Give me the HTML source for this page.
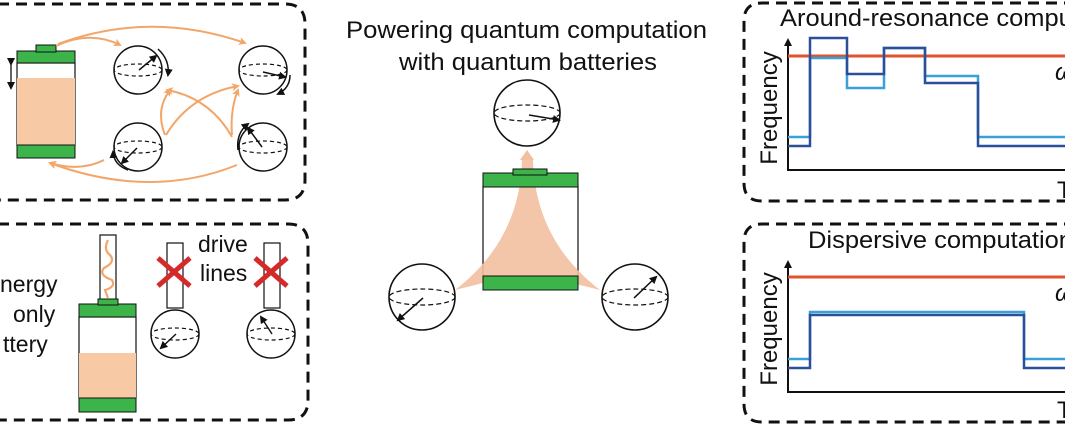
<!DOCTYPE html>
<html><head><meta charset="utf-8"><style>
body{margin:0;background:#fff;}
svg{display:block;font-family:"Liberation Sans","DejaVu Sans",sans-serif;}
</style></head><body>
<svg width="1065" height="426" viewBox="0 0 1065 426" xmlns="http://www.w3.org/2000/svg">
<defs>
<marker id="oa" markerWidth="8" markerHeight="8" refX="6" refY="4" orient="auto" markerUnits="userSpaceOnUse"><path d="M0,0 L8,4 L0,8 L2,4 Z" fill="#f2a66a"/></marker>
<marker id="ka" markerWidth="8" markerHeight="8" refX="6" refY="4" orient="auto" markerUnits="userSpaceOnUse"><path d="M0,0 L8,4 L0,8 Z" fill="#111"/></marker>
<g id="sph">
<circle r="24" fill="#fff" stroke="#111" stroke-width="1.5"/>
<ellipse rx="24" ry="6" fill="none" stroke="#111" stroke-width="1.2" stroke-dasharray="4,3"/>
</g>
<g id="sphL">
<circle r="33" fill="#fff" stroke="#111" stroke-width="1.6"/>
<ellipse rx="33" ry="8" fill="none" stroke="#111" stroke-width="1.2" stroke-dasharray="5,3"/>
</g>
</defs>

<path d="M-20,4 H285 Q305,4 305,24 V180 Q305,200 285,200 H-20" fill="none" stroke="#111" stroke-width="3" stroke-dasharray="11,7"/>
<path d="M-20,224 H288 Q308,224 308,244 V400 Q308,420 288,420 H-20" fill="none" stroke="#111" stroke-width="3" stroke-dasharray="11,7"/>

<rect x="17" y="63" width="58" height="82" fill="#fff" stroke="#111" stroke-width="1.2"/>
<rect x="17" y="78" width="58" height="67" fill="#f7c9a4"/>
<rect x="17" y="51" width="58" height="12" fill="#3cb44a" stroke="#111" stroke-width="1"/>
<rect x="36" y="45" width="20" height="7" fill="#3cb44a" stroke="#111" stroke-width="1"/>
<rect x="17" y="145" width="58" height="13" fill="#3cb44a" stroke="#111" stroke-width="1"/>
<line x1="11" y1="64" x2="11" y2="88" stroke="#111" stroke-width="1.3" marker-start="url(#ka)" marker-end="url(#ka)"/>

<g fill="none" stroke="#f2a66a" stroke-width="2">
<path d="M56,46 Q90,30 120,45" marker-end="url(#oa)"/>
<path d="M58,44 Q150,10 245,43" marker-end="url(#oa)"/>
<path d="M165,135 Q155,110 170,90" marker-end="url(#oa)"/>
<path d="M166,135 Q190,95 238,86" marker-end="url(#oa)"/>
<path d="M232,137 Q210,98 167,90" marker-end="url(#oa)"/>
<path d="M232,135 Q230,110 238,90" marker-end="url(#oa)"/>
<path d="M104,160 Q80,172 50,163" marker-end="url(#oa)"/>
<path d="M237,165 Q150,200 50,163" marker-end="url(#oa)"/>
</g>

<use href="#sph" x="138" y="70"/>
<line x1="139" y1="70" x2="156" y2="56" stroke="#111" stroke-width="1.5" marker-end="url(#ka)"/>
<path d="M158,49 Q170,60 168,75" fill="none" stroke="#111" stroke-width="1.5" marker-end="url(#ka)"/>
<use href="#sph" x="263" y="70"/>
<line x1="263" y1="72" x2="285" y2="77" stroke="#111" stroke-width="1.5" marker-end="url(#ka)"/>
<path d="M290,75 Q290,88 278,94" fill="none" stroke="#111" stroke-width="1.5" marker-end="url(#ka)"/>
<use href="#sph" x="138" y="147"/>
<line x1="137" y1="148" x2="122" y2="163" stroke="#111" stroke-width="1.5" marker-end="url(#ka)"/>
<path d="M128,170 Q114,165 113,152" fill="none" stroke="#111" stroke-width="1.5" marker-end="url(#ka)"/>
<use href="#sph" x="263" y="147"/>
<line x1="262" y1="147" x2="248" y2="128" stroke="#111" stroke-width="1.5" marker-end="url(#ka)"/>
<path d="M238,150 Q236,133 248,124" fill="none" stroke="#111" stroke-width="1.5" marker-end="url(#ka)"/>

<g font-size="23" fill="#111">
<text x="0" y="292">nergy</text>
<text x="13" y="322">only</text>
<text x="3" y="352">ttery</text>
<text x="198" y="252">drive</text>
<text x="200" y="281">lines</text>
</g>
<rect x="100" y="235" width="16" height="67" fill="#fff" stroke="#111" stroke-width="1.2"/>
<path d="M108,240 Q103,250 110,255 Q116,262 104,268 Q98,275 112,280 Q116,287 105,290 L108,298" fill="none" stroke="#f2a66a" stroke-width="2.2"/>
<rect x="79" y="317" width="57" height="81" fill="#fff" stroke="#111" stroke-width="1.2"/>
<rect x="79" y="353" width="57" height="45" fill="#f7c9a4"/>
<rect x="79" y="304" width="57" height="13" fill="#3cb44a" stroke="#111" stroke-width="1"/>
<rect x="98" y="299" width="20" height="6" fill="#3cb44a" stroke="#111" stroke-width="1"/>
<rect x="79" y="398" width="57" height="14" fill="#3cb44a" stroke="#111" stroke-width="1"/>

<rect x="167" y="243" width="16" height="65" fill="#fff" stroke="#111" stroke-width="1.2"/>
<use href="#sph" x="175" y="334"/>
<line x1="176" y1="334" x2="161" y2="348" stroke="#111" stroke-width="1.4" marker-end="url(#ka)"/>
<rect x="264" y="243" width="16" height="65" fill="#fff" stroke="#111" stroke-width="1.2"/>
<use href="#sph" x="271" y="334"/>
<line x1="272" y1="334" x2="261" y2="317" stroke="#111" stroke-width="1.4" marker-end="url(#ka)"/>
<g stroke="#d42a2a" stroke-width="5">
<line x1="158" y1="258" x2="190" y2="286"/><line x1="190" y1="258" x2="158" y2="286"/>
<line x1="255" y1="258" x2="287" y2="286"/><line x1="287" y1="258" x2="255" y2="286"/>
</g>

<g font-size="24" fill="#111">
<text x="346" y="38" textLength="361" lengthAdjust="spacingAndGlyphs">Powering quantum computation</text>
<text x="399" y="70" textLength="258" lengthAdjust="spacingAndGlyphs">with quantum batteries</text>
</g>
<rect x="483" y="186" width="95" height="90" fill="#fff" stroke="#111" stroke-width="1.2"/>
<path d="M522,160 L533,160 Q535,240 600,290 L580,285 Q527,270 475,285 L455,290 Q520,240 522,160 Z" fill="#f2bfa0" opacity="0.9"/>
<path d="M520,160 L527,150 L534,160 Z" fill="#f2bfa0"/>
<rect x="483" y="173" width="95" height="14" fill="#3cb44a" stroke="#111" stroke-width="1"/>
<rect x="513" y="169" width="34" height="6" fill="#3cb44a" stroke="#111" stroke-width="1"/>
<rect x="483" y="276" width="95" height="14" fill="#3cb44a" stroke="#111" stroke-width="1"/>
<use href="#sphL" x="527" y="113"/>
<line x1="529" y1="115" x2="559" y2="120" stroke="#111" stroke-width="1.5" marker-end="url(#ka)"/>
<use href="#sphL" x="422" y="297"/>
<line x1="423" y1="298" x2="398" y2="320" stroke="#111" stroke-width="1.5" marker-end="url(#ka)"/>
<use href="#sphL" x="635" y="297"/>
<line x1="634" y1="298" x2="656" y2="277" stroke="#111" stroke-width="1.5" marker-end="url(#ka)"/>

<path d="M1075,3 H762 Q744,3 744,21 V183 Q744,201 762,201 H1075" fill="none" stroke="#111" stroke-width="3" stroke-dasharray="11,7"/>
<path d="M1075,224 H762 Q744,224 744,242 V404 Q744,422 762,422 H1075" fill="none" stroke="#111" stroke-width="3" stroke-dasharray="11,7"/>
<g font-size="24" fill="#111">
<text x="780" y="26" textLength="355" lengthAdjust="spacingAndGlyphs">Around-resonance computation</text>
<text x="808" y="248" textLength="265" lengthAdjust="spacingAndGlyphs">Dispersive computation</text>
<text x="1057" y="198">T</text>
<text x="1057" y="418">T</text>
<text x="1055" y="80" font-style="italic">ω</text>
<text x="1055" y="301" font-style="italic">ω</text>
<text transform="translate(777,108) rotate(-90)" text-anchor="middle">Frequency</text>
<text transform="translate(777,329) rotate(-90)" text-anchor="middle">Frequency</text>
</g>
<g stroke="#111" stroke-width="2" fill="none">
<line x1="788" y1="170" x2="788" y2="40" marker-end="url(#ka)"/>
<line x1="787" y1="170" x2="1065" y2="170"/>
<line x1="788" y1="392" x2="788" y2="262" marker-end="url(#ka)"/>
<line x1="787" y1="392" x2="1065" y2="392"/>
</g>
<line x1="788" y1="56" x2="1065" y2="56" stroke="#e0532d" stroke-width="3"/>
<line x1="788" y1="277" x2="1065" y2="277" stroke="#e0532d" stroke-width="3"/>
<polyline points="788,137 810,137 810,58 847,58 847,88 884,88 884,48 925,48 925,76 978,76 978,137 1065,137" fill="none" stroke="#3aa0d8" stroke-width="2.5"/>
<polyline points="788,146 810,146 810,38 847,38 847,74 884,74 884,48 925,48 925,83 978,83 978,146 1065,146" fill="none" stroke="#2c4f9a" stroke-width="2.5"/>
<polyline points="788,359 810,359 810,312 1024,312 1024,359 1065,359" fill="none" stroke="#3aa0d8" stroke-width="2.5"/>
<polyline points="788,368 810,368 810,315 1024,315 1024,368 1065,368" fill="none" stroke="#2c4f9a" stroke-width="2.5"/>
</svg>
</body></html>
